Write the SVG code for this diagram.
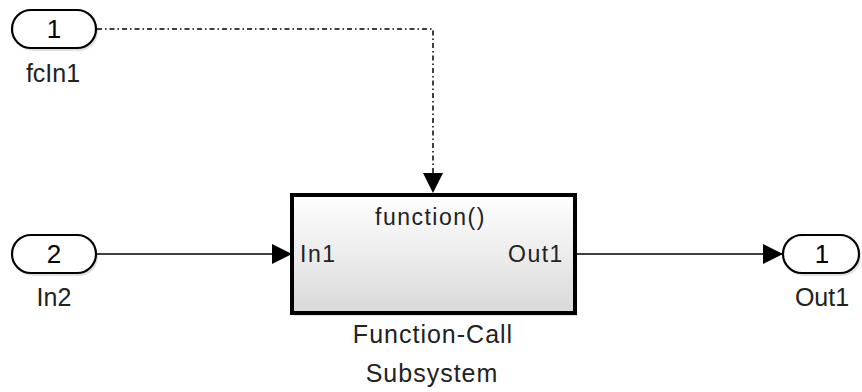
<svg xmlns="http://www.w3.org/2000/svg" width="862" height="392" viewBox="0 0 862 392">
<style>
.port{fill:#fff;stroke:#000;stroke-width:2.2}
.shadow{fill:#000;opacity:0.12}
.lbl{font-family:"Liberation Sans",Arial,sans-serif;font-size:25px;fill:#222;text-anchor:middle}
.num{font-family:"Liberation Sans",Arial,sans-serif;font-size:26px;fill:#000;text-anchor:middle}
.blk{font-family:"Liberation Sans",Arial,sans-serif;font-size:23px;fill:#222;letter-spacing:1.5px}
.wire{fill:none;stroke:#000;stroke-width:1.3}
.fc{fill:none;stroke:#000;stroke-width:1.5;stroke-dasharray:5 3 1.5 3}
</style>
<defs>
<linearGradient id="g" x1="0" y1="0" x2="0" y2="1">
<stop offset="0" stop-color="#ffffff"/>
<stop offset="1" stop-color="#d9d9d9"/>
</linearGradient>
<marker id="ah" viewBox="0 0 20 20" refX="20" refY="10" markerWidth="20" markerHeight="20" markerUnits="userSpaceOnUse" orient="auto">
<path d="M0,0 L20,10 L0,20 Z" fill="#000"/>
</marker>
</defs>
<g id="connectors">
<path class="fc" d="M97,29 H433 V193" marker-end="url(#ah)"/>
<path class="wire" d="M97,254 H292" marker-end="url(#ah)"/>
<path class="wire" d="M575,254 H783" marker-end="url(#ah)"/>
</g>
<g id="fcIn1">
<rect class="shadow" x="14" y="13" width="84" height="38" rx="19"/>
<rect class="port" x="12" y="10" width="84" height="38" rx="19"/>
<text class="num" x="54" y="38">1</text>
<text class="lbl" x="53" y="82">fcIn1</text>
</g>
<g id="In2">
<rect class="shadow" x="14" y="238" width="84" height="38" rx="19"/>
<rect class="port" x="12" y="235" width="84" height="38" rx="19"/>
<text class="num" x="54" y="263">2</text>
<text class="lbl" x="54" y="306">In2</text>
</g>
<g id="Out1">
<rect class="shadow" x="785" y="238" width="76" height="38" rx="19"/>
<rect class="port" x="783" y="235" width="76" height="38" rx="19"/>
<text class="num" x="822" y="263">1</text>
<text class="lbl" x="822" y="306">Out1</text>
</g>
<g id="subsystem">
<rect class="shadow" x="294" y="198" width="283" height="118"/>
<rect x="292" y="195" width="283" height="118" fill="url(#g)" stroke="#000" stroke-width="4"/>
<text class="blk" x="375" y="225">function()</text>
<text class="blk" x="300" y="262">In1</text>
<text class="blk" x="508" y="262">Out1</text>
<text class="lbl" x="433" y="343" letter-spacing="1">Function-Call</text>
<text class="lbl" x="432" y="382" letter-spacing="1">Subsystem</text>
</g>
</svg>
